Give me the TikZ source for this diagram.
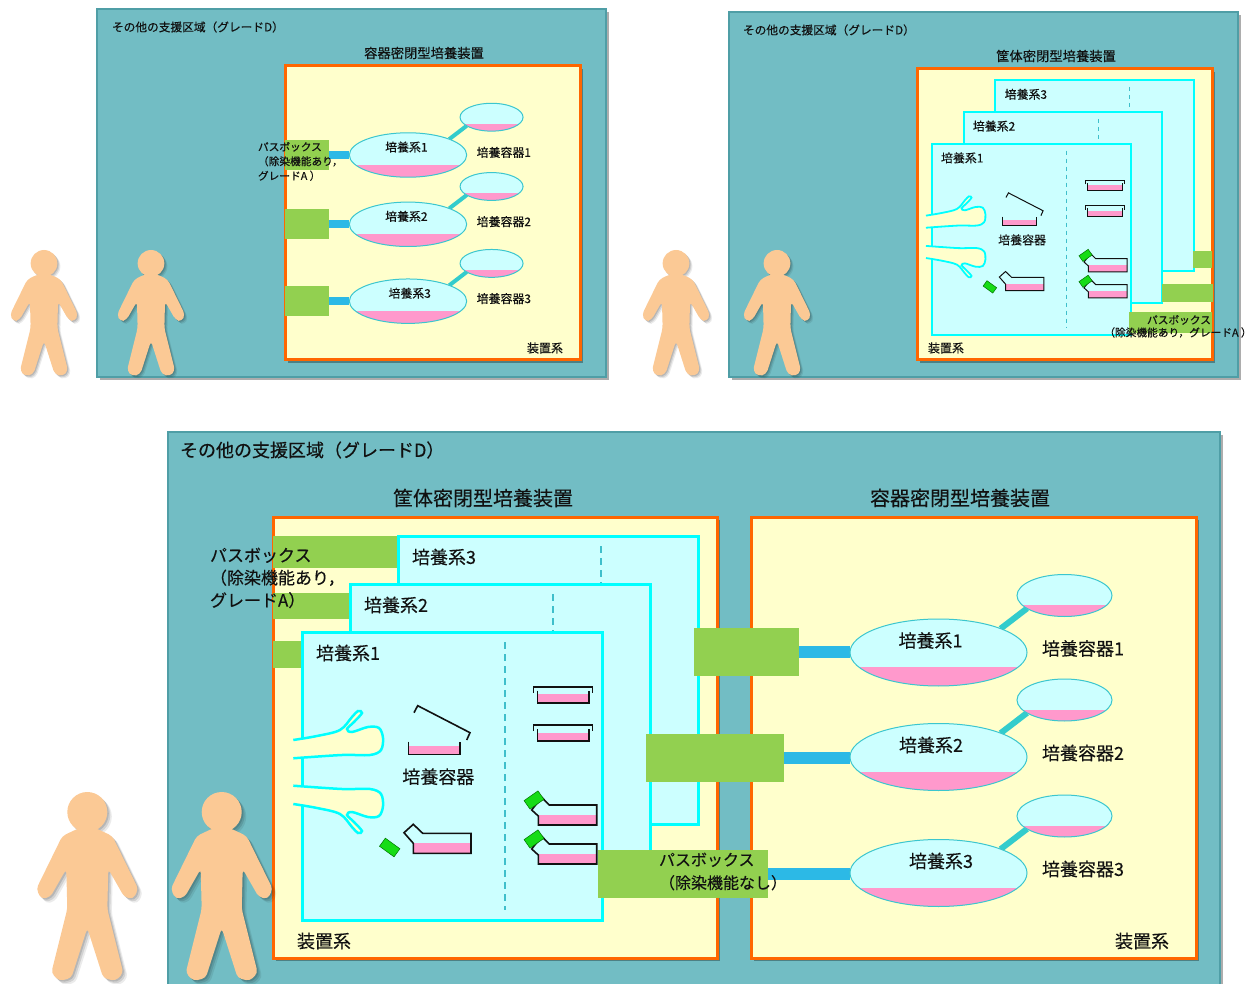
\documentclass[tikz,border=0pt]{standalone}
\usepackage{fontspec}
\setmainfont{Noto Sans CJK JP}[FakeBold=0.35]
\usetikzlibrary{shapes.geometric,calc}

\definecolor{panelteal}{HTML}{72BDC4}
\definecolor{panelrim}{HTML}{4F9EA6}
\definecolor{cream}{HTML}{FFFFCC}
\definecolor{frameorange}{HTML}{FF6600}
\definecolor{sysfill}{HTML}{CCFFFF}
\definecolor{sysline}{HTML}{00FFFF}
\definecolor{passgreen}{HTML}{92D050}
\definecolor{pipeblue}{HTML}{2CB9E6}
\definecolor{stemteal}{HTML}{33CCCC}
\definecolor{rimteal}{HTML}{3BC6CE}
\definecolor{mediapink}{HTML}{FF99CC}
\definecolor{capgreen}{HTML}{16DC16}
\definecolor{skin}{HTML}{FBC995}
\definecolor{dashteal}{HTML}{3FBFCB}
\definecolor{inkgray}{HTML}{111111}

\newcommand\txtsize[2]{\fontsize{#1pt}{#2pt}\selectfont}

\pgfdeclarelayer{bg}
\pgfdeclarelayer{pipes}
\pgfsetlayers{bg,pipes,main}

\tikzset{
  % one glove of the glove port, palm pointing right, thumb up
  glove/.pic={
    \fill[cream] plot[smooth, tension=0.55] coordinates {(-8.7,-32) (15,-36) (38,-42) (50,-55) (56,-61) (60,-59) (52,-50) (45,-43) (50,-40) (66,-45) (77,-44) (81,-34) (79,-22) (68,-17) (40,-17) (-8.7,-13.7)} -- cycle;
    \draw[glovepen] plot[smooth, tension=0.55] coordinates {(-8.7,-32) (15,-36) (38,-42) (50,-55) (56,-61) (60,-59) (52,-50) (45,-43) (50,-40) (66,-45) (77,-44) (81,-34) (79,-22) (68,-17) (40,-17) (-8.7,-13.7)};
  },
  % standing worker, origin at the top of the head
  person/.pic={
    \foreach \d/\o in {4.5/0.08, 3/0.11, 1.5/0.13}{
      \fill[black, opacity=\o, shift={(\d,\d)}] (0,20) circle[radius=20];
      \fill[black, opacity=\o, shift={(\d,\d)}, rounded corners=4pt] (-8,36) -- (8,36) -- (25,44) -- (51,97) -- (46,107) -- (37,105) -- (21,77) -- (20,117) -- (36,181) -- (28,189) -- (16,186) -- (0,136) -- (-16,186) -- (-28,189) -- (-36,181) -- (-20,117) -- (-21,77) -- (-37,105) -- (-46,107) -- (-51,97) -- (-25,44) -- cycle;
    }
    \fill[skin] (0,20) circle[radius=20];
    \fill[skin, rounded corners=4pt] (-8,36) -- (8,36) -- (25,44) -- (51,97) -- (46,107) -- (37,105) -- (21,77) -- (20,117) -- (36,181) -- (28,189) -- (16,186) -- (0,136) -- (-16,186) -- (-28,189) -- (-36,181) -- (-20,117) -- (-21,77) -- (-37,105) -- (-46,107) -- (-51,97) -- (-25,44) -- cycle;
  }
}

% open dish, #1,#2 = top of its left wall
\newcommand\OpenDish[2]{%
  \begin{scope}[shift={(#1,#2)}]
    \fill[mediapink] (0,4.3) rectangle (51.7,12.6);
    \draw[ware] (0,0) -- (0,12.6) -- (51.7,12.6) -- (51.7,0);
  \end{scope}}
% dish with lid, #1,#2 = top left of the lid
\newcommand\ClosedDish[2]{%
  \begin{scope}[shift={(#1,#2)}]
    \fill[mediapink] (4,7.6) rectangle (55.7,16);
    \draw[ware] (4,4) -- (4,16) -- (55.7,16) -- (55.7,4);
    \draw[ware] (0,6) -- (0,0) -- (59,0) -- (59,6);
  \end{scope}}
% flask without cap, #1,#2 = top left of the body
\newcommand\OpenFlask[2]{%
  \begin{scope}[shift={(#1,#2)}]
    \fill[mediapink] (0,10) rectangle (57.7,20);
    \draw[ware] (0,10) -- (-9.3,-0.6) -- (0,-9) -- (9.4,0) -- (57.7,0) -- (57.7,20) -- (0,20) -- cycle;
  \end{scope}}
% flask with cap, #1,#2 = top left of the body
\newcommand\CappedFlask[2]{%
  \begin{scope}[shift={(#1,#2)}]
    \fill[mediapink] (0,10) rectangle (58.4,20);
    \draw[ware] (0,11) -- (-6.6,5) -- (3.4,-7.7) -- (11,0) -- (58.4,0) -- (58.4,20) -- (0,20) -- cycle;
    \draw[capfill, rotate around={35:(-4.3,-5)}] (-12.8,-10.2) rectangle (4.2,0.2);
  \end{scope}}

% three culture units of the cabinet type, front unit 1 with glove port
\newcommand\SystemStack[1]{%
  \draw[sysbox] (398,536) rectangle (698,824);
  \draw[sepline] (601,546) -- (601,814);
  \node[txt, anchor=west] (#1unit3) at (412,557) {培養系3};
  \draw[sysbox] (350,584) rectangle (650,872);
  \draw[sepline] (553,594) -- (553,862);
  \node[txt, anchor=west] (#1unit2) at (364,605) {培養系2};
  \draw[sysbox] (302,632) rectangle (602,920);
  \draw[sepline] (505,642) -- (505,910);
  \node[txt, anchor=west] (#1unit1) at (316,653) {培養系1};
  \pic at (302,772) {glove};
  \pic[yscale=-1] at (302,772) {glove};
  \OpenDish{408.3}{741.7}
  \draw[ware] (414,712.7) -- (417.7,705.7) -- (470,732.7) -- (466.7,740);
  \node[txt] (#1ware) at (438.3,776.7) {培養容器};
  \OpenFlask{413.3}{833.3}
  \draw[capfill, rotate around={-36:(389.7,847.5)}] (380.7,842.5) rectangle (398.7,852.5);
  \ClosedDish{533.3}{686.7}
  \ClosedDish{533.3}{725}
  \CappedFlask{538.3}{805}
  \CappedFlask{538.3}{844}
}

% one culture line of the vessel type: #1 prefix, #2 index, #3 centre y, #4 label x
\newcommand\CultureLine[4]{%
  \node[vessel, medium=0.28, minimum width=177pt, minimum height=67pt] (#1sys#2) at (938.5,#3) {};
  \node[vessel, medium=0.27, minimum width=95pt, minimum height=42pt] (#1dish#2) at (1064.5,#3-57) {};
  \begin{pgfonlayer}{pipes}
    \draw[stem] (#1sys#2.21) -- (#1dish#2.199);
  \end{pgfonlayer}
  \node[txt] (#1syslab#2) at (#4,#3-12) {培養系#2};
  \node[txt, anchor=west] (#1dishlab#2) at (1042,#3-4) {培養容器#2};
}

\begin{document}
\begin{tikzpicture}[x=1pt, y=-1pt,
  panel/.style={draw=panelrim, line width=2pt, fill=panelteal},
  plant/.style={draw=frameorange, line width=3pt, fill=cream},
  shade/.style={fill=black, opacity=0.32},
  sysbox/.style={draw=sysline, line width=3pt, fill=sysfill},
  sepline/.style={draw=dashteal, line width=1.5pt, dash pattern=on 7pt off 5pt},
  passbox/.style={rectangle, fill=passgreen, inner sep=0pt, outer sep=0pt},
  pipe/.style={draw=pipeblue, line width=12pt},
  stem/.style={draw=stemteal, line width=6pt},
  vessel/.style={ellipse, draw=rimteal, line width=1pt, fill=sysfill, inner sep=0pt, outer sep=0pt},
  medium/.style={path picture={\fill[mediapink] (path picture bounding box.south west) rectangle ($(path picture bounding box.south east)!#1!(path picture bounding box.north east)$);}},
  ware/.style={draw=inkgray, line width=1.6pt},
  capfill/.style={fill=capgreen, draw=green!45!black, line width=0.5pt},
  glovepen/.style={draw=sysline, line width=2.5pt},
  txt/.style={inner sep=0pt, outer sep=0pt, text=inkgray, font=\txtsize{18}{22}}
]
\useasboundingbox (0,0) rectangle (1254,984);

\begin{pgfonlayer}{bg}
  % support areas (grade D)
  \fill[shade] (100,12) rectangle (609,380);
  \draw[panel] (97,9) rectangle (606,377);
  \fill[shade] (732,15) rectangle (1241,380);
  \draw[panel] (729,12) rectangle (1238,377);
  \fill[shade] (171,435) rectangle (1223,990);
  \draw[panel] (168,432) rectangle (1220,990);
  % equipment housings
  \fill[shade] (288,69) rectangle (583,363);
  \draw[plant] (285,66) rectangle (580,360);
  \fill[shade] (920,72) rectangle (1215,363);
  \draw[plant] (917,69) rectangle (1212,360);
  \fill[shade] (276,520) rectangle (720,961);
  \draw[plant] (273,517) rectangle (717,958);
  \fill[shade] (754,520) rectangle (1199,961);
  \draw[plant] (751,517) rectangle (1196,958);
\end{pgfonlayer}

% ---------- upper left: vessel-type closed culture device ----------
\node[txt, anchor=west, font=\txtsize{11.7}{14}] (tlTitle) at (112,27) {その他の支援区域（グレードD）};
\node[txt, font=\txtsize{13.3}{16}] (tlPlant) at (424,53) {容器密閉型培養装置};
\node[txt, font=\txtsize{12}{14}] (tlBase) at (545,348) {装置系};
\begin{scope}[shift={(-214.2,-277.6)}, scale=0.663, transform shape, stem/.append style={line width=4pt}]
  \CultureLine{tl}{1}{652.5}{936}
  \CultureLine{tl}{2}{757}{936}
  \CultureLine{tl}{3}{873}{941}
\end{scope}
\node[passbox, minimum width=44pt, minimum height=30pt] (tlPass1) at (307,155) {};
\node[passbox, minimum width=44pt, minimum height=30pt] (tlPass2) at (307,224.3) {};
\node[passbox, minimum width=44pt, minimum height=30pt] (tlPass3) at (307,301.2) {};
\begin{pgfonlayer}{pipes}
  \foreach \k in {1,2,3}
    \draw[pipe, line width=8pt] (tlPass\k.east) -- (tlPass\k.east -| tlsys\k.west);
\end{pgfonlayer}
\node[txt, anchor=west, align=left, font=\txtsize{10.7}{14.5}] (tlPassText) at (258,161.5) {パスボックス\\（除染機能あり，\\グレードA ）};

% ---------- upper right: cabinet-type closed culture device ----------
\node[txt, anchor=west, font=\txtsize{11.7}{14}] (trTitle) at (743,30) {その他の支援区域（グレードD）};
\node[txt, font=\txtsize{13.3}{16}] (trPlant) at (1056,56) {筐体密閉型培養装置};
\begin{scope}[shift={(731.5,-275)}, scale=0.663, transform shape,
    sysbox/.append style={line width=2pt},
    sepline/.append style={line width=1pt, dash pattern=on 4.5pt off 3.5pt},
    ware/.append style={line width=1pt},
    glovepen/.append style={line width=1.8pt}]
  \SystemStack{tr}
\end{scope}
\node[passbox, minimum width=18.4pt, minimum height=17.6pt] (trPass3) at (1202.5,259.5) {};
\node[passbox, minimum width=51pt, minimum height=17.7pt] (trPass2) at (1187.2,292.9) {};
\node[passbox, minimum width=82.4pt, minimum height=21pt] (trPass1) at (1170.5,322.2) {};
\node[txt, font=\txtsize{10.7}{13}] (trPassText1) at (1179,320) {パスボックス};
\node[txt, font=\txtsize{10.7}{13}] (trPassText2) at (1178,332.5) {（除染機能あり，グレードA ）};
\node[txt, font=\txtsize{12}{14}] (trBase) at (946,348) {装置系};

% ---------- lower: both devices side by side ----------
\node[txt, anchor=west] (bTitle) at (180,450) {その他の支援区域（グレードD）};
\node[txt, font=\txtsize{20}{24}] (bPlantL) at (483,498) {筐体密閉型培養装置};
\node[txt, font=\txtsize{20}{24}] (bPlantR) at (960,498) {容器密閉型培養装置};
\node[passbox, minimum width=125pt, minimum height=32pt] (bDecon3) at (335.5,552) {};
\node[passbox, minimum width=77pt, minimum height=26pt] (bDecon2) at (311.5,606) {};
\node[passbox, minimum width=29pt, minimum height=27pt] (bDecon1) at (287.5,654.5) {};
\node[txt, anchor=west, align=left, font=\txtsize{17}{22.5}] (bDeconText) at (210,578) {パスボックス\\（除染機能あり，\\グレードA）};
\SystemStack{b}
\node[txt] (bBaseL) at (324,941) {装置系};
\node[txt] (bBaseR) at (1142,941) {装置系};
\CultureLine{b}{1}{652.5}{930.5}
\CultureLine{b}{2}{757}{931}
\CultureLine{b}{3}{873}{941}
\node[passbox, minimum width=105pt, minimum height=48pt] (bPassA) at (746.5,652) {};
\node[passbox, minimum width=138pt, minimum height=48pt] (bPassB) at (715,758) {};
\node[passbox, minimum width=170pt, minimum height=48pt] (bPassC) at (683,874) {};
\begin{pgfonlayer}{pipes}
  \draw[pipe] (bPassA.east) -- (bPassA.east -| bsys1.west);
  \draw[pipe] (bPassB.east) -- (bPassB.east -| bsys2.west);
  \draw[pipe] (bPassC.east) -- (bPassC.east -| bsys3.west);
\end{pgfonlayer}
\node[txt, anchor=west, align=left, font=\txtsize{16}{23}] (bPassText) at (659,871.5) {パスボックス\\（除染機能なし）};

% ---------- workers ----------
\pic[scale=0.668] at (44,250) {person};
\pic[scale=0.668] at (151,250) {person};
\pic[scale=0.668] at (676,250) {person};
\pic[scale=0.668] at (777,250) {person};
\pic at (87.3,792) {person};
\pic at (221.7,792) {person};
\end{tikzpicture}
\end{document}
